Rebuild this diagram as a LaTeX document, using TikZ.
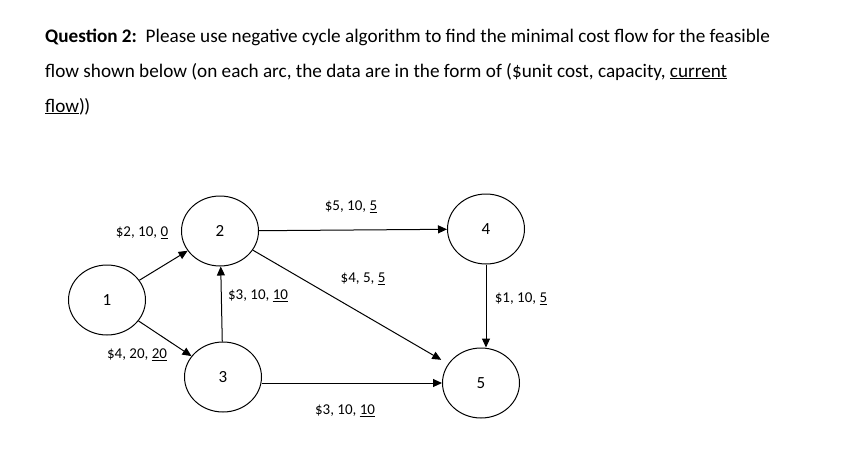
\documentclass[tikz,border=0pt]{standalone}
\usepackage{fontspec}
\setmainfont{Carlito}
\usetikzlibrary{shapes.geometric, arrows.meta, positioning}

\begin{document}
\begin{tikzpicture}[
    x=1pt, y=-1pt,
    every node/.style={font=\fontsize{15}{17}\selectfont},
    head/.style={anchor=base west, inner sep=0pt, font=\fontsize{19.2}{22}\selectfont},
    vertex/.style={draw, ellipse, line width=1pt, minimum width=77pt,
                   minimum height=70pt, inner sep=0pt, font=\fontsize{17}{19}\selectfont},
    cost/.style={inner sep=1pt},
    arr/.style={-{Triangle[length=9pt, width=8pt]}, line width=1pt}
]
    \useasboundingbox (0,0) rectangle (863,469);

    % Question text
    \node[head] (q1) at (45,42) {\textbf{Question 2:}\ \ Please use negative cycle algorithm to find the minimal cost flow for the feasible};
    \node[head] (q2) at (45,77) {flow shown below (on each arc, the data are in the form of (\$unit cost, capacity, \underline{current}};
    \node[head] (q3) at (45,112) {\underline{flow})\kern-0.5pt)};

    % Nodes
    \node[vertex] (n1) at (107,300) {1};
    \node[vertex] (n2) at (220,231) {2};
    \node[vertex] (n3) at (223,377) {3};
    \node[vertex] (n4) at (486,229) {4};
    \node[vertex] (n5) at (481,383) {5};

    % Arcs
    \draw[arr] (n1) -- (n2);
    \draw[arr] (n1) -- (n3);
    \draw[arr] (n3) -- (n2);
    \draw[arr] (n2) -- (n4);
    \draw[arr, shorten >=8pt] (n2) -- (n5);
    \draw[arr] (n3.east |- n5.west) -- (n5.west);
    \draw[arr] (n4.south) -- (n4.south |- n5.north);

    % Arc data
    \node[cost] (c12) at (142,233) {\$2, 10, \underline{0}};
    \node[cost] (c13) at (137,355) {\$4, 20, \underline{20}};
    \node[cost] (c32) at (258,296) {\$3, 10, \underline{10}};
    \node[cost] (c24) at (351,207) {\$5, 10, \underline{5}};
    \node[cost] (c25) at (363,279) {\$4, 5, \underline{5}};
    \node[cost] (c45) at (521,299) {\$1, 10, \underline{5}};
    \node[cost] (c35) at (345,411) {\$3, 10, \underline{10}};
\end{tikzpicture}
\end{document}
